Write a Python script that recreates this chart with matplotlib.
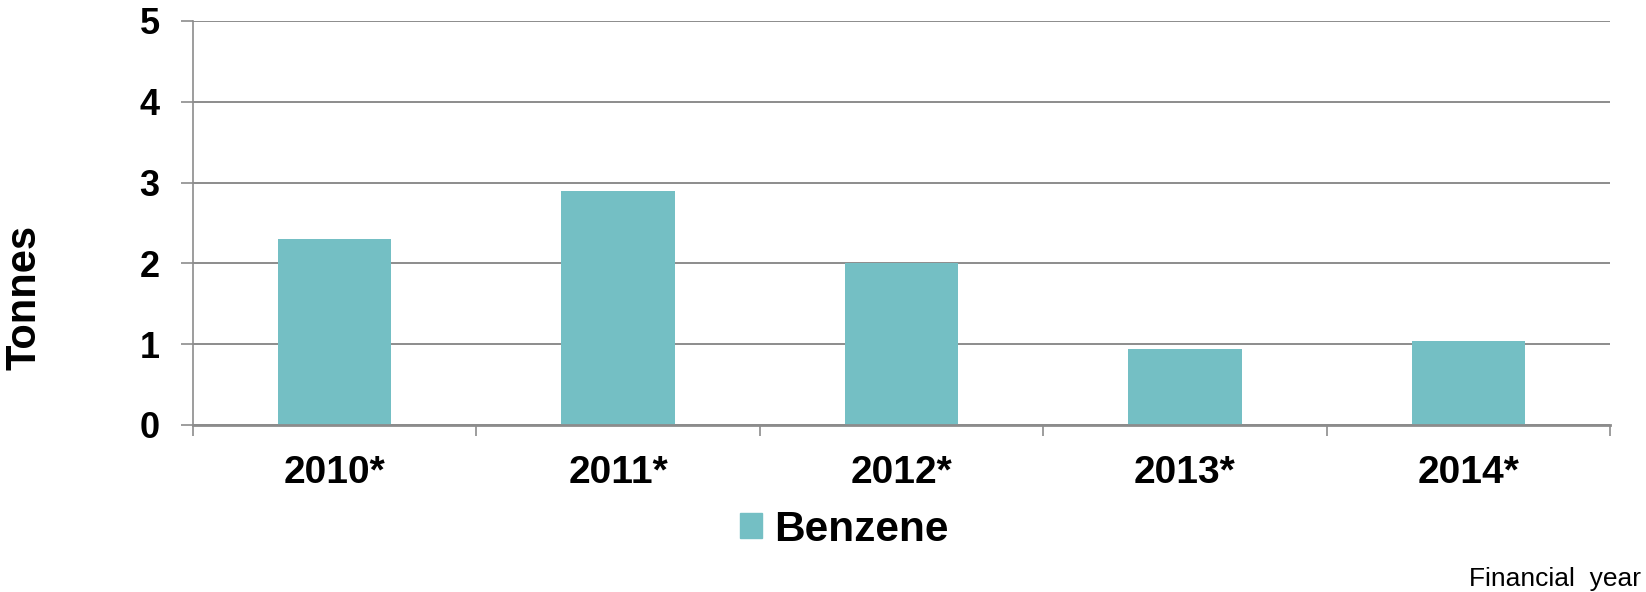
import numpy as np
import matplotlib
matplotlib.use("Agg")
import matplotlib.pyplot as plt
import matplotlib.patches as mpatches

plt.rcParams["font.family"] = ["Liberation Sans", "DejaVu Sans"]

years = ["2010*", "2011*", "2012*", "2013*", "2014*"]
benzene = [2.3, 2.9, 2.0, 0.94, 1.04]
yticks = [0, 1, 2, 3, 4, 5]

BAR = "#74bfc4"
GRID = "#8c8c8c"

fig = plt.figure(figsize=(16.46, 5.92), dpi=100)
ax = fig.add_axes([193/1646, 1-425/592, (1610-193)/1646, (425-21)/592])

x = np.arange(len(years))
ax.bar(x, benzene, width=0.4, color=BAR, zorder=3)

ax.set_xlim(-0.5, len(years)-0.5)
ax.set_ylim(0, 5)
ax.set_yticks(yticks)
ax.set_yticklabels([str(v) for v in yticks], fontsize=26, fontweight="bold")
ax.yaxis.grid(True, color=GRID, lw=1.4, zorder=0)
ax.tick_params(axis="y", length=8.5, width=1.2, color=GRID, pad=15.5)

ax.set_xticks(x)
ax.set_xticklabels(years, fontsize=28, fontweight="bold")
ax.tick_params(axis="x", which="major", length=0, pad=21.5)
ax.set_xticks(np.arange(-0.5, len(years)), minor=True)
ax.tick_params(axis="x", which="minor", length=8, width=1.2, color=GRID)

for s in ["top", "right"]:
    ax.spines[s].set_visible(False)
ax.spines["left"].set_color(GRID)
ax.spines["left"].set_linewidth(1.2)
ax.spines["bottom"].set_color(GRID)
ax.spines["bottom"].set_linewidth(2)
ax.spines["bottom"].set_zorder(4)

fig.text(24/1646, 0.497, "Tonnes", rotation=90, ha="center", va="center",
         fontsize=30, fontweight="bold")

handle = mpatches.Patch(color=BAR, label="Benzene")
fig.legend(handles=[handle], loc="center", bbox_to_anchor=(0.513, 0.105),
           frameon=False, prop={"size": 30.5, "weight": "bold"},
           handlelength=0.52, handleheight=0.52, handletextpad=0.3,
           borderpad=0, borderaxespad=0)

fig.text(1641/1646, 1-586/592, "Financial  year", ha="right", va="baseline",
         fontsize=19)

fig.savefig("out.png", dpi=100)
